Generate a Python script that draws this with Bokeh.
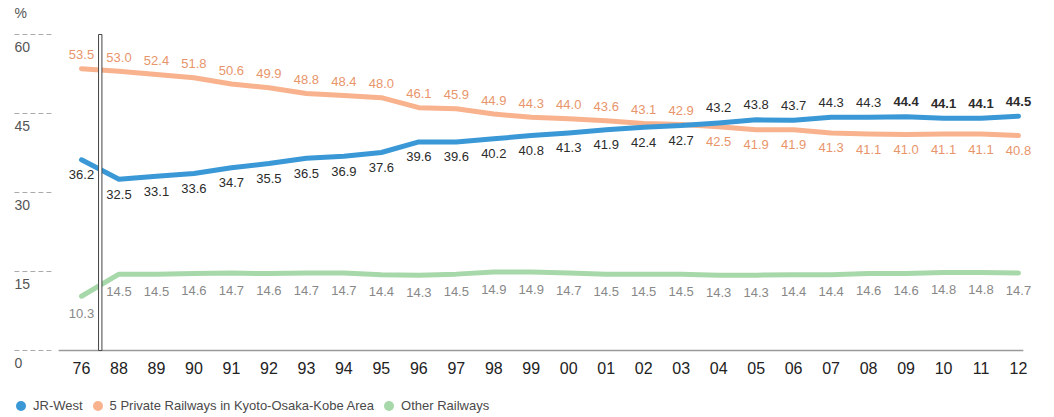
from bokeh.plotting import figure
from bokeh.models import ColumnDataSource, Legend, LegendItem, Range1d
from bokeh.core.properties import value
from bokeh.embed import file_html
from bokeh.resources import INLINE

# ---- data ----
years = ["76", "88", "89", "90", "91", "92", "93", "94", "95", "96", "97", "98", "99",
         "00", "01", "02", "03", "04", "05", "06", "07", "08", "09", "10", "11", "12"]
jr_west = [36.2, 32.5, 33.1, 33.6, 34.7, 35.5, 36.5, 36.9, 37.6, 39.6, 39.6, 40.2, 40.8,
           41.3, 41.9, 42.4, 42.7, 43.2, 43.8, 43.7, 44.3, 44.3, 44.4, 44.1, 44.1, 44.5]
private5 = [53.5, 53.0, 52.4, 51.8, 50.6, 49.9, 48.8, 48.4, 48.0, 46.1, 45.9, 44.9, 44.3,
            44.0, 43.6, 43.1, 42.9, 42.5, 41.9, 41.9, 41.3, 41.1, 41.0, 41.1, 41.1, 40.8]
other = [10.3, 14.5, 14.5, 14.6, 14.7, 14.6, 14.7, 14.7, 14.4, 14.3, 14.5, 14.9, 14.9,
         14.7, 14.5, 14.5, 14.5, 14.3, 14.3, 14.4, 14.4, 14.6, 14.6, 14.8, 14.8, 14.7]
y_ticks = [0, 15, 30, 45, 60]
y_tick_labels = ["0", "15", "30", "45", "60"]
series_names = ["JR-West", "5 Private Railways in Kyoto-Osaka-Kobe Area", "Other Railways"]

# ---- styles ----
C_JR = "#3a98d6"
C_PR = "#f8b28e"
C_OT = "#a7d8a9"
LBL_JR = "#2b2b2b"
LBL_PR = "#e8956b"
LBL_OT = "#888888"
FONT = "Liberation Sans"

xs = list(range(len(years)))
n = len(years)

p = figure(width=1046, height=413,
           x_range=Range1d(-2.161, 25.747), y_range=Range1d(-11.963, 66.455),
           output_backend="svg", toolbar_location=None,
           x_axis_location=None, y_axis_location=None,
           min_border=0, outline_line_color=None)
p.grid.visible = False
p.background_fill_color = "white"

# y "ticks": short dashed marks at the left with labels under them
p.segment(x0=[-1.79] * len(y_ticks), x1=[-0.77] * len(y_ticks), y0=y_ticks, y1=y_ticks,
          line_color="#aaaaaa", line_width=1, line_dash="5 3")
p.text(x=[-1.79] * len(y_ticks), y=y_ticks, text=y_tick_labels, y_offset=13,
       text_align="left", text_baseline="middle", text_font=value(FONT),
       text_font_size="14px", text_color="#555555")
p.text(x=[-1.79], y=[y_ticks[-1]], text=["%"], y_offset=-21,
       text_align="left", text_baseline="middle", text_font=value(FONT),
       text_font_size="14px", text_color="#555555")

# baseline
p.segment(x0=[-0.61], x1=[n - 1 + 0.13], y0=[0], y1=[0], line_color="#9a9a9a", line_width=1.5)

# x tick labels
p.text(x=xs, y=[0] * n, text=years, y_offset=18, text_align="center", text_baseline="middle",
       text_font=value(FONT), text_font_size="16px", text_color="#222222")

# lines
for vals, col in [(other, C_OT), (private5, C_PR), (jr_west, C_JR)]:
    p.line(xs, vals, line_color=col, line_width=5, line_join="round", line_cap="round")

# break marker between 76 and 88
p.quad(left=[0.5 - 0.045], right=[0.5 + 0.045], bottom=[0], top=[60],
       fill_color="white", line_color="#444444", line_width=1)

# data labels
def fmt(v):
    return f"{v:.1f}"

LSIZE = "13px"
jr_src = ColumnDataSource(dict(
    x=xs, y=jr_west, t=[fmt(v) for v in jr_west],
    off=[-15 if j > q else 15 for j, q in zip(jr_west, private5)],
    st=["bold" if i >= n - 4 else "normal" for i in range(n)]))
p.text(x="x", y="y", text="t", y_offset="off", text_font_style="st", source=jr_src,
       text_align="center", text_baseline="middle", text_font=value(FONT),
       text_font_size=LSIZE, text_color=LBL_JR)

pr_src = ColumnDataSource(dict(
    x=xs, y=private5, t=[fmt(v) for v in private5],
    off=[-14 if q > j else 15 for j, q in zip(jr_west, private5)]))
p.text(x="x", y="y", text="t", y_offset="off", source=pr_src,
       text_align="center", text_baseline="middle", text_font=value(FONT),
       text_font_size=LSIZE, text_color=LBL_PR)

ot_src = ColumnDataSource(dict(x=xs, y=other, t=[fmt(v) for v in other]))
p.text(x="x", y="y", text="t", y_offset=17, source=ot_src,
       text_align="center", text_baseline="middle", text_font=value(FONT),
       text_font_size=LSIZE, text_color=LBL_OT)

# legend (zero-size markers on the series data; only their legend swatches show)
leg_r = []
for vals, col in [(jr_west, C_JR), (private5, C_PR), (other, C_OT)]:
    leg_r.append(p.scatter(x=xs, y=vals, marker="circle", size=0, fill_color=col, line_color=None))
legend = Legend(items=[LegendItem(label=nm, renderers=[r]) for nm, r in zip(series_names, leg_r)],
                orientation="horizontal", location=(8, -5),
                glyph_width=25, glyph_height=25, label_standoff=0, spacing=2,
                label_text_font=FONT, label_text_font_size="13px", label_text_color="#4a4a4a",
                label_height=25, padding=0, margin=0, border_line_color=None,
                background_fill_alpha=0)
p.add_layout(legend)

open("out.html", "w").write(file_html(p, INLINE))
